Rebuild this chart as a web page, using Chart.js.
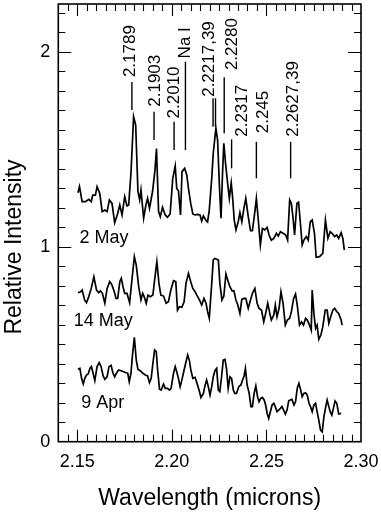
<!DOCTYPE html>
<html>
<head>
<meta charset="utf-8">
<script src="https://cdn.jsdelivr.net/npm/chart.js@4/dist/chart.umd.min.js"></script>
<style>
  body { margin: 0; background: #fff; }
  #wrap { width: 381px; height: 515px; position: relative; }
</style>
</head>
<body>
<div id="wrap"><canvas id="myChart"></canvas></div>
<script>
// tick labels
const xTicks = [2.15, 2.20, 2.25, 2.30];
const yTicks = [0, 1, 2];

// 2 May spectrum
const may2Wave = [2.1504, 2.1512, 2.1526, 2.1544, 2.1561, 2.1574, 2.1582, 2.1596, 2.1605, 2.1619,
  2.1632, 2.1646, 2.1658, 2.1670, 2.1684, 2.1698, 2.1714, 2.1725, 2.1737, 2.1751,
  2.1763, 2.1772, 2.1784, 2.1798, 2.1809, 2.1821, 2.1830, 2.1837, 2.1851, 2.1863,
  2.1872, 2.1882, 2.1898, 2.1911, 2.1919, 2.1930, 2.1939, 2.1951, 2.1965, 2.1977,
  2.1991, 2.2005, 2.2018, 2.2026, 2.2035, 2.2046, 2.2054, 2.2068, 2.2079, 2.2089,
  2.2100, 2.2111, 2.2123, 2.2135, 2.2149, 2.2158, 2.2167, 2.2179, 2.2189, 2.2198,
  2.2211, 2.2219, 2.2233, 2.2242, 2.2251, 2.2260, 2.2268, 2.2275, 2.2284, 2.2295,
  2.2304, 2.2314, 2.2321, 2.2330, 2.2339, 2.2351, 2.2360, 2.2370, 2.2381, 2.2391,
  2.2404, 2.2416, 2.2426, 2.2439, 2.2447, 2.2458, 2.2468, 2.2479, 2.2491, 2.2504,
  2.2514, 2.2526, 2.2539, 2.2553, 2.2563, 2.2574, 2.2588, 2.2602, 2.2612, 2.2623,
  2.2632, 2.2640, 2.2649, 2.2661, 2.2670, 2.2679, 2.2689, 2.2698, 2.2711, 2.2721,
  2.2732, 2.2742, 2.2754, 2.2763, 2.2781, 2.2798, 2.2812, 2.2825, 2.2837, 2.2847,
  2.2860, 2.2872, 2.2882, 2.2895, 2.2904, 2.2912];
const may2Int = [1.277, 1.308, 1.231, 1.231, 1.243, 1.231, 1.265, 1.265, 1.308, 1.274,
  1.180, 1.188, 1.180, 1.240, 1.222, 1.123, 1.171, 1.214, 1.163, 1.257,
  1.209, 1.214, 1.376, 1.667, 1.624, 1.282, 1.240, 1.291, 1.146, 1.214,
  1.248, 1.197, 1.282, 1.393, 1.504, 1.180, 1.154, 1.202, 1.163, 1.151,
  1.168, 1.351, 1.414, 1.299, 1.287, 1.163, 1.385, 1.402, 1.368, 1.291,
  1.222, 1.168, 1.163, 1.166, 1.163, 1.132, 1.158, 1.137, 1.127, 1.188,
  1.351, 1.479, 1.607, 1.547, 1.325, 1.146, 1.376, 1.530, 1.428, 1.325,
  1.248, 1.328, 1.257, 1.137, 1.086, 1.128, 1.175, 1.128, 1.197, 1.248,
  1.154, 1.082, 1.082, 1.180, 1.248, 1.128, 1.009, 1.094, 1.086, 1.099,
  1.060, 1.034, 1.043, 1.069, 1.055, 1.077, 1.069, 1.060, 1.034, 1.240,
  1.222, 1.154, 1.060, 1.222, 1.228, 1.128, 1.009, 1.034, 1.052, 1.034,
  1.128, 1.137, 1.069, 0.946, 0.949, 0.966, 1.137, 1.043, 1.077, 1.069,
  1.052, 1.060, 1.043, 1.072, 1.043, 0.983];

// 14 May spectrum
const may14Wave = [2.1504, 2.1518, 2.1526, 2.1539, 2.1549, 2.1561, 2.1574, 2.1588, 2.1602, 2.1614,
  2.1623, 2.1633, 2.1646, 2.1658, 2.1672, 2.1684, 2.1696, 2.1705, 2.1714, 2.1725,
  2.1733, 2.1742, 2.1751, 2.1763, 2.1777, 2.1789, 2.1802, 2.1812, 2.1825, 2.1837,
  2.1846, 2.1854, 2.1865, 2.1874, 2.1886, 2.1900, 2.1909, 2.1921, 2.1932, 2.1942,
  2.1956, 2.1970, 2.1982, 2.1995, 2.2009, 2.2021, 2.2030, 2.2040, 2.2053, 2.2065,
  2.2075, 2.2088, 2.2100, 2.2111, 2.2123, 2.2132, 2.2146, 2.2158, 2.2170, 2.2181,
  2.2189, 2.2198, 2.2211, 2.2219, 2.2228, 2.2246, 2.2254, 2.2265, 2.2275, 2.2286,
  2.2298, 2.2307, 2.2319, 2.2328, 2.2339, 2.2349, 2.2360, 2.2370, 2.2381, 2.2391,
  2.2404, 2.2416, 2.2426, 2.2439, 2.2451, 2.2461, 2.2474, 2.2486, 2.2496, 2.2507,
  2.2518, 2.2526, 2.2539, 2.2547, 2.2556, 2.2567, 2.2577, 2.2588, 2.2600, 2.2611,
  2.2623, 2.2632, 2.2644, 2.2654, 2.2663, 2.2675, 2.2686, 2.2696, 2.2707, 2.2716,
  2.2728, 2.2737, 2.2742, 2.2751, 2.2760, 2.2768, 2.2777, 2.2788, 2.2798, 2.2811,
  2.2821, 2.2830, 2.2840, 2.2851, 2.2861, 2.2872, 2.2882, 2.2895, 2.2900];
const may14Int = [0.764, 0.769, 0.778, 0.727, 0.713, 0.744, 0.786, 0.846, 0.778, 0.764,
  0.774, 0.761, 0.710, 0.786, 0.821, 0.803, 0.769, 0.735, 0.735, 0.821,
  0.838, 0.795, 0.761, 0.761, 0.713, 0.829, 0.949, 0.906, 0.795, 0.727,
  0.761, 0.744, 0.710, 0.752, 0.744, 0.752, 0.829, 0.923, 0.812, 0.752,
  0.747, 0.710, 0.718, 0.778, 0.826, 0.821, 0.675, 0.692, 0.689, 0.718,
  0.812, 0.863, 0.821, 0.786, 0.769, 0.752, 0.727, 0.701, 0.735, 0.710,
  0.667, 0.633, 0.812, 0.932, 0.940, 0.932, 0.812, 0.727, 0.747, 0.860,
  0.821, 0.795, 0.774, 0.774, 0.727, 0.701, 0.658, 0.730, 0.735, 0.735,
  0.684, 0.727, 0.761, 0.786, 0.710, 0.684, 0.675, 0.615, 0.658, 0.710,
  0.658, 0.624, 0.650, 0.701, 0.641, 0.684, 0.769, 0.710, 0.598, 0.624,
  0.633, 0.667, 0.735, 0.757, 0.701, 0.598, 0.615, 0.598, 0.633, 0.624,
  0.598, 0.573, 0.778, 0.658, 0.581, 0.598, 0.525, 0.547, 0.590, 0.675,
  0.675, 0.607, 0.641, 0.675, 0.684, 0.667, 0.658, 0.624, 0.598];

// 9 Apr spectrum
const apr9Wave = [2.1504, 2.1514, 2.1523, 2.1532, 2.1540, 2.1549, 2.1558, 2.1567, 2.1575, 2.1584,
  2.1593, 2.1605, 2.1616, 2.1626, 2.1637, 2.1646, 2.1658, 2.1668, 2.1679, 2.1689,
  2.1698, 2.1707, 2.1719, 2.1732, 2.1746, 2.1758, 2.1767, 2.1775, 2.1784, 2.1793,
  2.1802, 2.1812, 2.1821, 2.1833, 2.1847, 2.1860, 2.1872, 2.1882, 2.1891, 2.1900,
  2.1909, 2.1918, 2.1925, 2.1935, 2.1944, 2.1956, 2.1965, 2.1977, 2.1988, 2.1996,
  2.2009, 2.2018, 2.2026, 2.2035, 2.2044, 2.2053, 2.2065, 2.2075, 2.2084, 2.2093,
  2.2100, 2.2111, 2.2123, 2.2132, 2.2144, 2.2154, 2.2167, 2.2175, 2.2184, 2.2193,
  2.2202, 2.2211, 2.2219, 2.2228, 2.2237, 2.2246, 2.2254, 2.2263, 2.2272, 2.2281,
  2.2289, 2.2298, 2.2307, 2.2316, 2.2325, 2.2333, 2.2342, 2.2354, 2.2365, 2.2374,
  2.2382, 2.2389, 2.2398, 2.2409, 2.2418, 2.2426, 2.2435, 2.2444, 2.2453, 2.2461,
  2.2470, 2.2479, 2.2488, 2.2496, 2.2504, 2.2512, 2.2521, 2.2530, 2.2539, 2.2547,
  2.2556, 2.2565, 2.2574, 2.2582, 2.2591, 2.2600, 2.2609, 2.2618, 2.2626, 2.2635,
  2.2646, 2.2654, 2.2663, 2.2672, 2.2681, 2.2689, 2.2698, 2.2707, 2.2716, 2.2725,
  2.2733, 2.2742, 2.2751, 2.2760, 2.2768, 2.2777, 2.2786, 2.2795, 2.2804, 2.2812,
  2.2821, 2.2830, 2.2837, 2.2846, 2.2854, 2.2863, 2.2872, 2.2882, 2.2895];
const apr9Int = [0.371, 0.376, 0.325, 0.296, 0.325, 0.342, 0.347, 0.376, 0.385, 0.351,
  0.313, 0.385, 0.405, 0.385, 0.337, 0.320, 0.333, 0.385, 0.392, 0.351,
  0.333, 0.351, 0.368, 0.364, 0.359, 0.354, 0.351, 0.308, 0.351, 0.453,
  0.535, 0.419, 0.371, 0.364, 0.351, 0.342, 0.337, 0.303, 0.325, 0.402,
  0.470, 0.462, 0.368, 0.269, 0.265, 0.296, 0.274, 0.274, 0.265, 0.274,
  0.351, 0.385, 0.359, 0.325, 0.282, 0.316, 0.368, 0.410, 0.445, 0.416,
  0.371, 0.325, 0.330, 0.303, 0.265, 0.227, 0.248, 0.286, 0.316, 0.282,
  0.239, 0.282, 0.333, 0.364, 0.376, 0.265, 0.257, 0.333, 0.419, 0.422,
  0.376, 0.274, 0.333, 0.325, 0.265, 0.248, 0.248, 0.282, 0.291, 0.316,
  0.337, 0.376, 0.291, 0.248, 0.180, 0.180, 0.248, 0.286, 0.231, 0.205,
  0.222, 0.227, 0.214, 0.188, 0.145, 0.120, 0.154, 0.188, 0.197, 0.180,
  0.154, 0.162, 0.171, 0.180, 0.162, 0.142, 0.162, 0.210, 0.214, 0.217,
  0.188, 0.205, 0.274, 0.299, 0.265, 0.231, 0.248, 0.251, 0.239, 0.197,
  0.180, 0.154, 0.188, 0.197, 0.154, 0.111, 0.060, 0.051, 0.128, 0.171,
  0.214, 0.180, 0.154, 0.137, 0.171, 0.209, 0.197, 0.142, 0.145];

// line identifications: marker wavelengths, marker span, label anchor
const lineMarks = [
  { text: '2.1789', at: [2.1789], from: 1.701, to: 1.845, tx: 2.1775, ty: 1.870 },
  { text: '2.1903', at: [2.1906], from: 1.547, to: 1.692, tx: 2.1908, ty: 1.718 },
  { text: '2.2010', at: [2.2012], from: 1.496, to: 1.641, tx: 2.2004, ty: 1.658 },
  { text: 'Na I', at: [2.2072], from: 1.496, to: 1.949, tx: 2.2065, ty: 1.966 },
  { text: '2.2217,39', at: [2.2218, 2.2231], from: 1.615, to: 1.761, tx: 2.2190, ty: 1.769 },
  { text: '2.2280', at: [2.2277], from: 1.582, to: 1.869, tx: 2.2311, ty: 1.906 },
  { text: '2.2317', at: [2.2316], from: 1.402, to: 1.551, tx: 2.2363, ty: 1.564 },
  { text: '2.245', at: [2.2447], from: 1.351, to: 1.538, tx: 2.2474, ty: 1.582 },
  { text: '2.2627,39', at: [2.2628], from: 1.351, to: 1.538, tx: 2.2633, ty: 1.564 }
];

const dateLabels = [
  { text: '2 May', x: 2.1512, y: 1.020 },
  { text: '14 May', x: 2.1482, y: 0.593 },
  { text: '9 Apr', x: 2.1521, y: 0.171 }
];

const FONT = '"Liberation Sans", Arial, Helvetica, sans-serif';

function pts(w, v) {
  return w.map((x, i) => ({ x: x, y: v[i] }));
}

const decor = {
  id: 'decor',
  afterDraw(chart) {
    const ctx = chart.ctx;
    const a = chart.chartArea;
    const x = chart.scales.x;
    const y = chart.scales.y;
    ctx.save();
    ctx.strokeStyle = '#000';
    ctx.fillStyle = '#000';

    // tick marks, pointing inward on all four sides
    ctx.lineWidth = 1.1;
    ctx.beginPath();
    for (let k = 0; k <= 30; k++) {
      const v = 2.145 + k * 0.005;
      const major = xTicks.some(t => Math.abs(t - v) < 1e-6);
      const len = major ? 12 : 7;
      const px = Math.round(x.getPixelForValue(v)) + 0.5;
      ctx.moveTo(px, a.bottom); ctx.lineTo(px, a.bottom - len);
      ctx.moveTo(px, a.top); ctx.lineTo(px, a.top + len);
    }
    for (let k = 1; k <= 22; k++) {
      const v = k / 10;
      const major = yTicks.some(t => Math.abs(t - v) < 1e-6);
      const len = major ? 13 : 7;
      const py = Math.round(y.getPixelForValue(v)) + 0.5;
      ctx.moveTo(a.left, py); ctx.lineTo(a.left + len, py);
      ctx.moveTo(a.right, py); ctx.lineTo(a.right - len, py);
    }
    ctx.stroke();

    ctx.lineWidth = 1.6;
    ctx.strokeRect(a.left, a.top, a.right - a.left, a.bottom - a.top);

    // line identifications
    const fs = 17;
    ctx.font = fs + 'px ' + FONT;
    ctx.lineWidth = 1.4;
    lineMarks.forEach(m => {
      ctx.beginPath();
      m.at.forEach(w => {
        const px = x.getPixelForValue(w);
        ctx.moveTo(px, y.getPixelForValue(m.from));
        ctx.lineTo(px, y.getPixelForValue(m.to));
      });
      ctx.stroke();
      ctx.save();
      ctx.translate(x.getPixelForValue(m.tx) + 0.358 * fs, y.getPixelForValue(m.ty));
      ctx.rotate(-Math.PI / 2);
      ctx.textAlign = 'left';
      ctx.textBaseline = 'alphabetic';
      ctx.fillText(m.text, 0, 0);
      ctx.restore();
    });

    // epoch labels
    ctx.font = '18px ' + FONT;
    ctx.textAlign = 'left';
    ctx.textBaseline = 'alphabetic';
    dateLabels.forEach(d => {
      ctx.fillText(d.text, x.getPixelForValue(d.x), y.getPixelForValue(d.y));
    });

    // axis titles
    ctx.font = '23px ' + FONT;
    ctx.textAlign = 'center';
    ctx.fillText('Wavelength (microns)', (a.left + a.right) / 2, 505);
    ctx.save();
    ctx.translate(20.5, 247);
    ctx.rotate(-Math.PI / 2);
    ctx.fillText('Relative Intensity', 0, 0);
    ctx.restore();

    ctx.restore();
  }
};

const ctx = document.getElementById('myChart');

const lineStyle = { borderColor: '#000', borderWidth: 1.7, pointRadius: 0, tension: 0, fill: false };

new Chart(ctx, {
  type: 'line',
  data: {
    datasets: [
      Object.assign({ label: '2 May', data: pts(may2Wave, may2Int) }, lineStyle),
      Object.assign({ label: '14 May', data: pts(may14Wave, may14Int) }, lineStyle),
      Object.assign({ label: '9 Apr', data: pts(apr9Wave, apr9Int) }, lineStyle)
    ]
  },
  options: {
    responsive: true,
    maintainAspectRatio: false,
    animation: false,
    events: [],
    layout: { padding: { top: 4, right: 20, left: 0, bottom: 0 } },
    plugins: { legend: { display: false }, tooltip: { enabled: false } },
    scales: {
      x: {
        type: 'linear',
        min: 2.14,
        max: 2.30,
        afterBuildTicks: s => { s.ticks = xTicks.map(v => ({ value: v })); },
        afterFit: s => { s.height = 73.3; s.paddingLeft = 0; s.paddingRight = 0; },
        grid: { display: false, drawTicks: false },
        border: { display: false },
        ticks: {
          color: '#000',
          font: { family: FONT, size: 18 },
          padding: 10,
          maxRotation: 0,
          autoSkip: false,
          callback: v => v.toFixed(2)
        }
      },
      y: {
        type: 'linear',
        min: 0,
        max: 2.245,
        afterBuildTicks: s => { s.ticks = yTicks.map(v => ({ value: v })); },
        afterFit: s => { s.width = 58.3; s.paddingTop = 0; s.paddingBottom = 0; },
        grid: { display: false, drawTicks: false },
        border: { display: false },
        ticks: {
          color: '#000',
          font: { family: FONT, size: 18 },
          padding: 8,
          callback: v => String(v)
        }
      }
    }
  },
  plugins: [decor]
});
</script>
</body>
</html>
